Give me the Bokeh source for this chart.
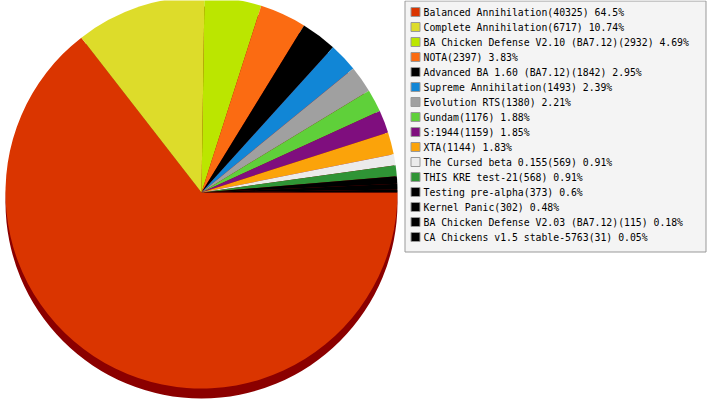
import math
from bokeh.plotting import figure
from bokeh.models import Range1d, ColumnDataSource
from bokeh.core.properties import value
from bokeh.embed import file_html
from bokeh.resources import INLINE

# ---- data ----
names = [
    "Balanced Annihilation", "Complete Annihilation",
    "BA Chicken Defense V2.10 (BA7.12)", "NOTA",
    "Advanced BA 1.60 (BA7.12)", "Supreme Annihilation",
    "Evolution RTS", "Gundam", "S:1944", "XTA",
    "The Cursed beta 0.155", "THIS KRE test-21",
    "Testing pre-alpha", "Kernel Panic",
    "BA Chicken Defense V2.03 (BA7.12)", "CA Chickens v1.5 stable-5763",
]
counts = [40325, 6717, 2932, 2397, 1842, 1493, 1380, 1176, 1159, 1144,
          569, 568, 373, 302, 115, 31]
percents = ["64.5", "10.74", "4.69", "3.83", "2.95", "2.39", "2.21", "1.88",
            "1.85", "1.83", "0.91", "0.91", "0.6", "0.48", "0.18", "0.05"]
colors = ["#DA3500", "#DDDC2A", "#BBE600", "#FB6B12", "#000000", "#1186D6",
          "#A0A0A0", "#5FD03A", "#7F0E7E", "#FBA30A", "#EBEBEB", "#2F9435",
          "#000000", "#000000", "#000000", "#000000"]

# ---- layout constants (figure pixel space, y up) ----
W, H = 707, 400
CX, CY, R = 201, 208, 196
DEPTH = 10

total = float(sum(counts))
cum = 0.0
starts, ends = [], []
for c in counts:
    a0 = cum / total
    cum += c
    a1 = cum / total
    # clockwise from 3 o'clock
    starts.append(-2 * math.pi * a1)
    ends.append(-2 * math.pi * a0)

pie = ColumnDataSource(dict(start=starts, end=ends, color=colors))

p = figure(width=W, height=H, x_range=Range1d(0, W), y_range=Range1d(0, H),
           output_backend="svg", toolbar_location=None,
           x_axis_location=None, y_axis_location=None, min_border=0)
p.grid.visible = False
p.outline_line_color = None
p.background_fill_color = "white"

# 3D side (shadow)
p.wedge(x=CX, y=CY - DEPTH, radius=R, start_angle=0, end_angle=2 * math.pi,
        fill_color="#8B0000", line_color=None)
p.wedge(x=CX, y=CY, radius=R, start_angle="start", end_angle="end",
        fill_color="color", line_color=None, source=pie)

# ---- legend ----
LX0, LX1, LY_BOTTOM = 404.5, 705.5, 148.5
p.quad(left=LX0, right=LX1, bottom=LY_BOTTOM, top=H - 0.5,
       fill_color="#F4F4F4", line_color="#999999", line_width=1)

row_y = [388.5 - 15 * i for i in range(len(names))]
labels = [f"{n}({c}) {pc}%" for n, c, pc in zip(names, counts, percents)]
leg = ColumnDataSource(dict(y=row_y, color=colors, label=labels))
p.rect(x=415, y="y", width=9, height=9, fill_color="color",
       line_color="#999999", line_width=1, source=leg)
p.text(x=423, y="y", text="label", source=leg, text_font=value("DejaVu Sans Mono"),
       text_font_size="9.8px", text_baseline="middle", text_color="black")

open("out.html", "w").write(file_html(p, INLINE))
